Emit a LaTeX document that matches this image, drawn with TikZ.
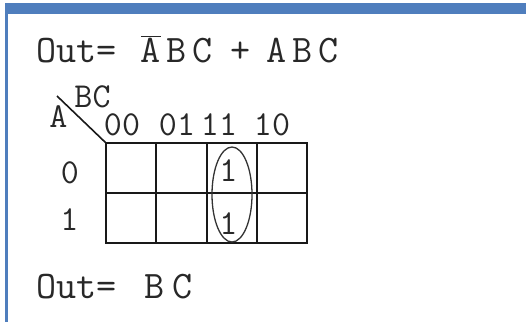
\documentclass[tikz,border=0pt]{standalone}
\usepackage{fontspec}
\definecolor{barblue}{RGB}{79,126,189}
\definecolor{inkgray}{RGB}{40,40,40}
\newcommand\kmLetter[2]{\makebox[#1pt][c]{#2}}
\begin{document}
\begin{tikzpicture}[x=1pt,y=-1pt,
  txt/.style={inner sep=0pt, anchor=base, text=inkgray, font=\fontsize{39}{42}\selectfont\ttfamily},
  lbl/.style={inner sep=0pt, anchor=base, text=inkgray, font=\fontsize{35}{38}\selectfont\ttfamily},
  gridline/.style={line width=1.8pt, black!90},
  loop/.style={line width=1.3pt, black!80}]
% canvas
\fill[white] (0,0) rectangle (526,322);
\useasboundingbox (0,0) rectangle (526,322);
% frame bar and left border
\fill[barblue] (5,3) rectangle (526,13.5);
\fill[barblue] (5,3) rectangle (8,322);
% first formula
\node[txt, anchor=base west] (out1) at (36,62) {Out=};
\node[txt] (f1) at (177,62) {\kmLetter{26}{$\overline{\hbox{A}}$}\kmLetter{26}{B}\kmLetter{26}{C}};
\node[txt] (plus) at (241,62) {+};
\node[txt] (f2) at (303,62) {\kmLetter{26}{A}\kmLetter{26}{B}\kmLetter{26}{C}};
% K-map grid
\coordinate (g00) at (106,143);
\coordinate (g11) at (307,243);
\coordinate (d0) at (57,96);
\draw[gridline] (g00) rectangle (g11);
\draw[gridline] (106,193) -- (307,193);
\draw[gridline] (156,143) -- (156,243);
\draw[gridline] (207,143) -- (207,243);
\draw[gridline] (257,143) -- (257,243);
\draw[line width=1.6pt, black!90] (d0) -- (g00);
% labels
\node[lbl] (bc) at (92.5,107) {BC};
\node[lbl] (a) at (58.5,127) {A};
\node[lbl] (c00) at (122,135) {00};
\node[lbl] (c01) at (177,135) {01};
\node[lbl] (c11) at (219,135) {11};
\node[lbl] (c10) at (272,135) {10};
\node[lbl] (r0) at (70,183) {0};
\node[lbl] (r1) at (69.5,230) {1};
\node[lbl] (m1) at (228.5,181) {1};
\node[lbl] (m2) at (228.5,234) {1};
% group loop
\draw[loop] (232,194.5) ellipse [x radius=20, y radius=47.5];
% result
\node[txt, anchor=base west] (out2) at (36,298) {Out=};
\node[txt] (res) at (168.75,298) {\kmLetter{27.5}{B}\kmLetter{27.5}{C}};
\end{tikzpicture}
\end{document}
